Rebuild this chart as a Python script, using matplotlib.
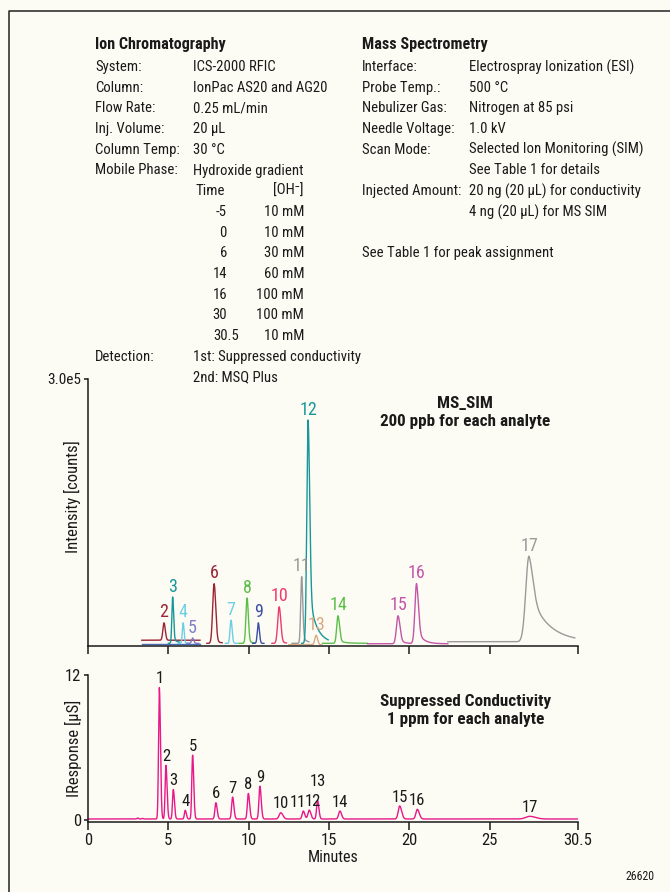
import numpy as np
import matplotlib
matplotlib.use("Agg")
import matplotlib.pyplot as plt
from matplotlib.lines import Line2D
from matplotlib import font_manager

# prefer a narrow sans face for the condensed look of the labels
installed = {f.name for f in font_manager.fontManager.ttflist}
narrow = [n for n in ["Liberation Sans Narrow", "Roboto Condensed", "Open Sans Condensed",
                      "Noto Sans Condensed", "DejaVu Sans Condensed", "Liberation Sans"] if n in installed]
plt.rcParams["font.family"] = narrow[:1] + ["DejaVu Sans"]
plt.rcParams["font.stretch"] = "condensed"

# ---- MS SIM channels (one segment per ion trace) ----
seg_start = [3.35, 3.35, 5.00, 5.60, 6.15, 7.40, 8.55, 9.40, 10.25, 11.45, 12.50, 12.70, 13.30, 14.60, 17.40, 22.40]
seg_end = [6.97, 6.97, 5.70, 6.30, 6.90, 8.35, 9.30, 10.35, 10.95, 12.35, 14.55, 13.75, 14.95, 17.40, 22.40, 30.30]
seg_base = [6.5e3, 2.5e3, 3.0e3, 3.0e3, 3.0e3, 3.0e3, 3.0e3, 3.0e3, 3.0e3, 3.0e3, 1.5e3, 3.0e3, 3.0e3, 3.0e3, 2.5e3, 4.8e3]

ms_label = ["2", "3", "4", "5", "6", "7", "8", "9", "10", "11", "12", "13", "14", "15", "16", "17"]
ms_segment = [0, 2, 3, 4, 5, 6, 7, 8, 9, 11, 12, 10, 13, 14, 14, 15]
ms_time = [4.73, 5.27, 5.92, 6.51, 7.85, 8.90, 9.90, 10.60, 11.90, 13.30, 13.70, 14.20, 15.56, 19.30, 20.45, 27.45]
ms_top = [26e3, 55e3, 26e3, 9e3, 70e3, 29e3, 54e3, 26e3, 44e3, 78e3, 254e3, 12e3, 34e3, 34e3, 70e3, 101e3]
ms_sig_l = [0.07, 0.05, 0.05, 0.06, 0.09, 0.06, 0.07, 0.06, 0.09, 0.06, 0.08, 0.08, 0.08, 0.10, 0.10, 0.20]
ms_sig_r = [0.08, 0.06, 0.06, 0.07, 0.10, 0.07, 0.08, 0.07, 0.10, 0.07, 0.10, 0.09, 0.10, 0.12, 0.12, 0.25]
ms_tail = [0.0, 0.1, 0.0, 0.0, 0.05, 0.0, 0.05, 0.0, 0.05, 0.1, 0.25, 0.0, 0.1, 0.15, 0.25, 0.60]
ms_tau = [1.0, 0.3, 1.0, 1.0, 0.3, 1.0, 0.3, 1.0, 0.3, 0.3, 0.45, 1.0, 0.4, 0.35, 0.35, 1.10]

# ---- Suppressed conductivity trace ----
cd_label = ["", "", "1", "2", "3", "4", "5", "6", "7", "8", "9", "10", "11", "12", "13", "14", "15", "16", "17"]
cd_time = [3.10, 3.40, 4.44, 4.85, 5.31, 6.05, 6.51, 7.96, 9.00, 9.98, 10.70, 12.00, 13.40, 13.77, 14.29, 15.68, 19.40, 20.50, 27.50]
cd_height = [0.08, 0.05, 10.9, 4.45, 2.45, 0.72, 5.3, 1.35, 1.82, 2.12, 2.72, 0.52, 0.66, 0.74, 1.54, 0.66, 1.08, 0.80, 0.22]
cd_sig_l = [0.05, 0.05, 0.05, 0.05, 0.05, 0.05, 0.05, 0.06, 0.06, 0.06, 0.06, 0.10, 0.07, 0.08, 0.06, 0.08, 0.09, 0.09, 0.25]
cd_sig_r = [0.05, 0.05, 0.07, 0.07, 0.07, 0.07, 0.07, 0.08, 0.08, 0.08, 0.08, 0.13, 0.09, 0.10, 0.08, 0.10, 0.12, 0.12, 0.35]
cd_baseline = 0.05

xtick_vals = [0, 5, 10, 15, 20, 25, 30.5]
xtick_text = ["0", "5", "10", "15", "20", "25", "30.5"]

seg_colors = ["#9b2335", "#4a6cb8", "#17979a", "#6dcfe6", "#7e7ec8", "#9b2335", "#6dcfe6", "#5cbf4a",
              "#3c4fa5", "#ee3a6e", "#d9a982", "#9a9a9a", "#17979a", "#5cbf4a", "#c356a8", "#9a9a9a"]
cd_color = "#e8188a"
bg = "#fdfcf4"
ink = "#1a1a1a"


def peak(t, t0, h, sl, sr, tail=0.0, tau=1.0):
    dt = t - t0
    left = np.exp(-0.5 * (dt / sl) ** 2)
    right = (1 - tail) * np.exp(-0.5 * (dt / sr) ** 2) + tail * np.exp(-np.clip(dt, 0, None) / tau)
    return h * np.where(dt < 0, left, right)


W, H = 670, 892
fig = plt.figure(figsize=(6.7, 8.92), dpi=100, facecolor=bg)


def fx(px):
    return px / W


def fy(py):
    return 1 - py / H


# frame line on the left and top
fig.add_artist(Line2D([fx(9), fx(9), 1.0], [0, fy(11), fy(11)], color="#222222", lw=1.1))

# ---- method text ----
fs = 10.6
hfs = 11.6
fig.text(fx(95), fy(45), "Ion Chromatography", fontsize=hfs, fontweight="bold", va="center", color=ink)
ic_keys = ["System:", "Column:", "Flow Rate:", "Inj. Volume:", "Column Temp:", "Mobile Phase:"]
ic_vals = ["ICS-2000 RFIC", "IonPac AS20 and AG20", "0.25 mL/min", "20 µL", "30 °C", "Hydroxide gradient"]
step = 20.7
for i, (k, v) in enumerate(zip(ic_keys, ic_vals)):
    y = 67 + i * step
    fig.text(fx(95), fy(y), k, fontsize=fs, va="center", color=ink)
    fig.text(fx(193), fy(y), v, fontsize=fs, va="center", color=ink)

grad_time = ["-5", "0", "6", "14", "16", "30", "30.5"]
grad_conc = ["10 mM", "10 mM", "30 mM", "60 mM", "100 mM", "100 mM", "10 mM"]
y = 67 + 6 * step
fig.text(fx(195), fy(y), "Time", fontsize=fs, va="center", color=ink)
fig.text(fx(304), fy(y), "[OH⁻]", fontsize=fs, va="center", ha="right", color=ink)
for i, (t, c) in enumerate(zip(grad_time, grad_conc)):
    y = 67 + (7 + i) * step
    if "." in t:
        fig.text(fx(213), fy(y), t, fontsize=fs, va="center", ha="left", color=ink)
    else:
        fig.text(fx(227), fy(y), t, fontsize=fs, va="center", ha="right", color=ink)
    fig.text(fx(304), fy(y), c, fontsize=fs, va="center", ha="right", color=ink)
y = 67 + 14 * step
fig.text(fx(95), fy(y), "Detection:", fontsize=fs, va="center", color=ink)
fig.text(fx(193), fy(y), "1st: Suppressed conductivity", fontsize=fs, va="center", color=ink)
fig.text(fx(193), fy(y + step), "2nd: MSQ Plus", fontsize=fs, va="center", color=ink)

fig.text(fx(362), fy(45), "Mass Spectrometry", fontsize=hfs, fontweight="bold", va="center", color=ink)
ms_keys = ["Interface:", "Probe Temp.:", "Nebulizer Gas:", "Needle Voltage:", "Scan Mode:", "",
           "Injected Amount:", ""]
ms_vals = ["Electrospray Ionization (ESI)", "500 °C", "Nitrogen at 85 psi", "1.0 kV",
           "Selected Ion Monitoring (SIM)", "See Table 1 for details",
           "20 ng (20 µL) for conductivity", "4 ng (20 µL) for MS SIM"]
for i, (k, v) in enumerate(zip(ms_keys, ms_vals)):
    y = 67 + i * step
    fig.text(fx(362), fy(y), k, fontsize=fs, va="center", color=ink)
    fig.text(fx(469), fy(y), v, fontsize=fs, va="center", color=ink)
fig.text(fx(362), fy(67 + 9 * step), "See Table 1 for peak assignment", fontsize=fs, va="center", color=ink)

# ---- axes ----
ax1 = fig.add_axes([fx(88), fy(646), fx(578) - fx(88), fy(379) - fy(646)])
ax2 = fig.add_axes([fx(88), fy(822), fx(578) - fx(88), fy(675) - fy(822)])
for ax in (ax1, ax2):
    ax.set_facecolor("none")
    ax.spines["top"].set_visible(False)
    ax.spines["right"].set_visible(False)
    ax.spines["left"].set_linewidth(1.1)
    ax.spines["bottom"].set_linewidth(1.1)
    ax.spines["left"].set_color(ink)
    ax.spines["bottom"].set_color(ink)
    ax.set_xlim(0, 30.5)
    ax.set_xticks(xtick_vals)
    ax.tick_params(axis="x", direction="out", length=6, width=1.1, labelsize=12, pad=2, colors=ink)
    ax.tick_params(axis="y", direction="out", length=3, width=1.1, labelsize=12, pad=2, colors=ink)

ax1.set_ylim(0, 3e5)
ax1.set_yticks([3e5])
ax1.set_yticklabels(["3.0e5"])
ax1.tick_params(axis="y", labelsize=11)
ax1.set_xticklabels([])

for i in range(len(seg_start)):
    t = np.linspace(seg_start[i], seg_end[i], 600)
    y = np.full_like(t, seg_base[i])
    for j in range(len(ms_time)):
        if ms_segment[j] == i:
            y += peak(t, ms_time[j], ms_top[j] - seg_base[i], ms_sig_l[j], ms_sig_r[j], ms_tail[j], ms_tau[j])
    ax1.plot(t, y, color=seg_colors[i], lw=1.0, solid_joinstyle="round")

for j in range(len(ms_time)):
    ax1.annotate(ms_label[j], (ms_time[j], ms_top[j]), xytext=(0, 1), textcoords="offset points",
                 ha="center", va="bottom", fontsize=13, color=seg_colors[ms_segment[j]])

ax1.text(0.77, 0.935, "MS_SIM\n200 ppb for each analyte", transform=ax1.transAxes, ha="center",
         va="top", fontsize=12.3, fontweight="bold", linespacing=1.25, color=ink)

ax2.set_ylim(-0.2, 12)
ax2.set_yticks([0, 12])
ax2.set_yticklabels(["0", "12"])
ax2.set_xticklabels(xtick_text)

t = np.linspace(0, 30.5, 4000)
sig = np.full_like(t, cd_baseline)
for j in range(len(cd_time)):
    sig += peak(t, cd_time[j], cd_height[j], cd_sig_l[j], cd_sig_r[j])
ax2.plot(t, sig, color=cd_color, lw=1.0)

# crowded labels around 13-14 min get pushed sideways / upward
cd_nudge_x = {"11": -0.35, "12": 0.25}
cd_lift = {"13": 7}
for j in range(len(cd_time)):
    lab = cd_label[j]
    if lab:
        ax2.annotate(lab, (cd_time[j] + cd_nudge_x.get(lab, 0), cd_height[j] + cd_baseline),
                     xytext=(0, 1 + cd_lift.get(lab, 0)), textcoords="offset points",
                     ha="center", va="bottom", fontsize=12, color=ink)

ax2.text(0.77, 0.87, "Suppressed Conductivity\n1 ppm for each analyte", transform=ax2.transAxes,
         ha="center", va="top", fontsize=12.3, fontweight="bold", linespacing=1.25, color=ink)

fig.text(fx(72), fy(497), "Intensity [counts]", rotation=90, ha="center", va="center", fontsize=12, color=ink)
fig.text(fx(73), fy(748), "IResponse [µS]", rotation=90, ha="center", va="center", fontsize=12, color=ink)
fig.text(fx(333), fy(858), "Minutes", ha="center", va="center", fontsize=11.5, color=ink)
fig.text(fx(654), fy(877), "26620", ha="right", va="center", fontsize=8.5, color=ink)

fig.savefig("out.png", dpi=100, facecolor=bg)
